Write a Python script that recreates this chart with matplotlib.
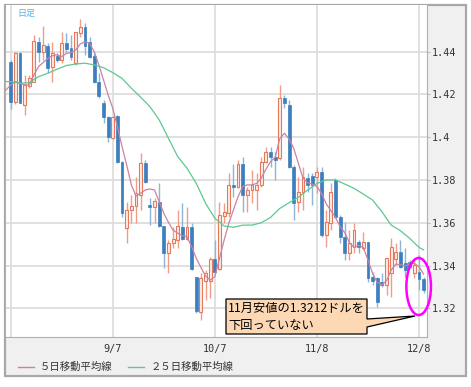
import numpy as np
import matplotlib
matplotlib.use('Agg')
import matplotlib.pyplot as plt
from matplotlib.patches import Rectangle, Ellipse, Polygon
from matplotlib.lines import Line2D

plt.rcParams['font.family'] = ['Noto Sans CJK JP', 'DejaVu Sans']

# daily candles, index 0 = 8/8 ... 89 = 12/9
opens = [1.4353, 1.4166, 1.4392, 1.4151, 1.4240, 1.4260, 1.4447, 1.4400, 1.4427, 1.4330,
         1.4380, 1.4361, 1.4439, 1.4416, 1.4346, 1.4489, 1.4517, 1.4447, 1.4380, 1.4260,
         1.4158, 1.4096, 1.3998, 1.4099, 1.3886, 1.3574, 1.3660, 1.3680, 1.3730, 1.3881,
         1.3683, 1.3675, 1.3699, 1.3585, 1.3457, 1.3504, 1.3519, 1.3582, 1.3522, 1.3582,
         1.3345, 1.3184, 1.3329, 1.3329, 1.3429, 1.3382, 1.3633, 1.3644, 1.3777, 1.3769,
         1.3875, 1.3730, 1.3753, 1.3753, 1.3777, 1.3886, 1.3932, 1.3909, 1.3901, 1.4185,
         1.4151, 1.3862, 1.3699, 1.3745, 1.3808, 1.3820, 1.3815, 1.3836, 1.3543, 1.3597,
         1.3800, 1.3628, 1.3535, 1.3457, 1.3488, 1.3508, 1.3480, 1.3508, 1.3348, 1.3340,
         1.3324, 1.3309, 1.3363, 1.3429, 1.3465, 1.3410, 1.3418, 1.3365, 1.3371, 1.3335]
highs = [1.4361, 1.4400, 1.4400, 1.4291, 1.4291, 1.4478, 1.4470, 1.4520, 1.4439, 1.4447,
         1.4392, 1.4494, 1.4486, 1.4478, 1.4494, 1.4551, 1.4533, 1.4470, 1.4392, 1.4299,
         1.4174, 1.4099, 1.4099, 1.4104, 1.3890, 1.3699, 1.3730, 1.3815, 1.3925, 1.3893,
         1.3714, 1.3714, 1.3784, 1.3585, 1.3519, 1.3582, 1.3660, 1.3691, 1.3675, 1.3597,
         1.3348, 1.3363, 1.3379, 1.3441, 1.3519, 1.3699, 1.3691, 1.3831, 1.3877, 1.3893,
         1.3909, 1.3769, 1.3846, 1.3831, 1.3909, 1.3956, 1.3956, 1.3932, 1.4244, 1.4198,
         1.4174, 1.3870, 1.3815, 1.3862, 1.3831, 1.3831, 1.3862, 1.3862, 1.3660, 1.3784,
         1.3808, 1.3636, 1.3605, 1.3566, 1.3597, 1.3519, 1.3559, 1.3512, 1.3371, 1.3348,
         1.3363, 1.3434, 1.3527, 1.3504, 1.3519, 1.3480, 1.3426, 1.3426, 1.3449, 1.3348]
lows = [1.4130, 1.4154, 1.4158, 1.4104, 1.4229, 1.4260, 1.4353, 1.4361, 1.4299, 1.4260,
        1.4353, 1.4346, 1.4400, 1.4361, 1.4338, 1.4470, 1.4385, 1.4369, 1.4252, 1.4182,
        1.4065, 1.3979, 1.3990, 1.3878, 1.3628, 1.3504, 1.3597, 1.3597, 1.3660, 1.3784,
        1.3589, 1.3597, 1.3582, 1.3387, 1.3363, 1.3480, 1.3480, 1.3519, 1.3519, 1.3379,
        1.3176, 1.3145, 1.3239, 1.3246, 1.3363, 1.3379, 1.3597, 1.3628, 1.3722, 1.3761,
        1.3652, 1.3652, 1.3691, 1.3660, 1.3769, 1.3878, 1.3862, 1.3800, 1.3893, 1.4135,
        1.3854, 1.3613, 1.3652, 1.3660, 1.3745, 1.3683, 1.3738, 1.3535, 1.3488, 1.3566,
        1.3621, 1.3504, 1.3426, 1.3426, 1.3457, 1.3457, 1.3472, 1.3324, 1.3309, 1.3208,
        1.3301, 1.3262, 1.3254, 1.3402, 1.3387, 1.3348, 1.3387, 1.3340, 1.3285, 1.3270]
closes = [1.4166, 1.4395, 1.4162, 1.4244, 1.4275, 1.4452, 1.4400, 1.4431, 1.4322, 1.4395,
          1.4361, 1.4439, 1.4411, 1.4377, 1.4494, 1.4517, 1.4427, 1.4377, 1.4260, 1.4193,
          1.4096, 1.4003, 1.4096, 1.3886, 1.3644, 1.3660, 1.3680, 1.3738, 1.3881, 1.3792,
          1.3675, 1.3703, 1.3585, 1.3457, 1.3504, 1.3522, 1.3585, 1.3522, 1.3582, 1.3382,
          1.3189, 1.3340, 1.3363, 1.3429, 1.3371, 1.3636, 1.3652, 1.3777, 1.3769, 1.3875,
          1.3730, 1.3753, 1.3777, 1.3777, 1.3886, 1.3932, 1.3909, 1.3893, 1.4182, 1.4158,
          1.3862, 1.3694, 1.3745, 1.3815, 1.3777, 1.3777, 1.3836, 1.3543, 1.3605, 1.3745,
          1.3628, 1.3535, 1.3457, 1.3504, 1.3566, 1.3488, 1.3512, 1.3340, 1.3329, 1.3231,
          1.3309, 1.3434, 1.3488, 1.3465, 1.3395, 1.3379, 1.3395, 1.3402, 1.3335, 1.3285]

# moving averages (index -1 = left edge)
ma5 = [1.4221, 1.4244, 1.4260, 1.4252, 1.4244, 1.4244, 1.4291, 1.4330, 1.4349, 1.4369, 1.4381,
       1.4385, 1.4377, 1.4392, 1.4395, 1.4408, 1.4436, 1.4447, 1.4439, 1.4400, 1.4338,
       1.4268, 1.4197, 1.4135, 1.4049, 1.3956, 1.3870, 1.3777, 1.3725, 1.3738, 1.3753,
       1.3758, 1.3753, 1.3699, 1.3644, 1.3602, 1.3566, 1.3551, 1.3540, 1.3535, 1.3488,
       1.3434, 1.3391, 1.3351, 1.3332, 1.3348, 1.3434, 1.3519, 1.3597, 1.3660, 1.3722,
       1.3769, 1.3777, 1.3777, 1.3784, 1.3808, 1.3850, 1.3886, 1.3906, 1.3995, 1.4018,
       1.3992, 1.3948, 1.3878, 1.3808, 1.3787, 1.3781, 1.3769, 1.3738, 1.3688, 1.3657,
       1.3625, 1.3582, 1.3554, 1.3507, 1.3485, 1.3494, 1.3485, 1.3426, 1.3363, 1.3321,
       1.3309, 1.3329, 1.3379, 1.3407, 1.3404, 1.3398, 1.3407, 1.3410, 1.3395, 1.3360]
ma25_days = [-1, 0, 2, 4, 6, 8, 10, 12, 14, 16, 18, 20, 22, 24, 26, 28, 30, 32, 34, 36,
             38, 40, 42, 44, 46, 48, 50, 52, 54, 56, 58, 60, 62, 64, 66, 68, 70, 72, 74,
             76, 78, 80, 82, 84, 86, 88, 89]
ma25 = [1.4260, 1.4260, 1.4252, 1.4255, 1.4283, 1.4299, 1.4318, 1.4335, 1.4342, 1.4346,
        1.4338, 1.4325, 1.4302, 1.4275, 1.4229, 1.4187, 1.4143, 1.4081, 1.3995, 1.3909,
        1.3855, 1.3784, 1.3691, 1.3621, 1.3585, 1.3579, 1.3589, 1.3589, 1.3600, 1.3625,
        1.3667, 1.3694, 1.3719, 1.3753, 1.3784, 1.3800, 1.3800, 1.3781, 1.3761, 1.3734,
        1.3706, 1.3652, 1.3589, 1.3563, 1.3527, 1.3485, 1.3473]

month_ticks = [0, 22, 44, 66, 88]
month_labels = ['', '9/7', '10/7', '11/8', '12/8']
price_ticks = [1.32, 1.34, 1.36, 1.38, 1.40, 1.42, 1.44]
legend_labels = ['５日移動平均線', '２５日移動平均線']
note_lines = ['11月安値の1.3212ドルを', '下回っていない']

W, H = 471, 387
fig = plt.figure(figsize=(W / 100, H / 100), dpi=100)


def fx(px):
    return px / W


def fy(py):
    return 1 - py / H


# frame / gray panels
fig.add_artist(Rectangle((fx(5), fy(376)), fx(466) - fx(5), fy(5) - fy(376),
                         transform=fig.transFigure, facecolor='#F0F0F0',
                         edgecolor='#A8A8A8', lw=1.6, zorder=-1))

ax = fig.add_axes([fx(5), fy(337), fx(426.7) - fx(5), fy(5) - fy(337)])
ax.set_facecolor('white')
ax.set_xlim(-1.23, 89.66)
ax.set_ylim(1.3066, 1.4618)

days = np.arange(len(opens))
o = np.array(opens)
h = np.array(highs)
l = np.array(lows)
c = np.array(closes)
up = c >= o
body_lo = np.minimum(o, c)
body_h = np.maximum(np.abs(c - o), 0.00035)

ax.vlines(days[up], l[up], h[up], color='#F09C86', lw=1, zorder=2)
ax.vlines(days[~up], l[~up], h[~up], color='#8DB5DB', lw=1, zorder=2)
ax.bar(days[up], body_h[up], bottom=body_lo[up], width=0.62, color='#FDEDE8',
       edgecolor='#E5795C', linewidth=0.8, zorder=3)
ax.bar(days[~up], body_h[~up], bottom=body_lo[~up], width=0.62, color='#3D7EBF',
       edgecolor='#3D7EBF', linewidth=0.5, zorder=3)

ax.plot(np.arange(-1, len(ma5) - 1), ma5, color='#CC82A3', lw=0.9, zorder=4)
ax.plot(ma25_days, ma25, color='#5CC98E', lw=0.9, zorder=4)

ax.set_xticks(month_ticks)
ax.set_xticklabels(month_labels, family='DejaVu Sans Mono', fontsize=7.3, color='#333333')
ax.set_yticks(price_ticks)
ax.set_yticklabels([f'{v:g}' for v in price_ticks], family='DejaVu Sans Mono',
                   fontsize=7.3, color='#333333')
ax.yaxis.tick_right()
ax.tick_params(axis='y', length=2.5, width=0.8, color='#BBBBBB', pad=1)
ax.tick_params(axis='x', length=0, pad=5)
ax.grid(color='#DDDDDD', lw=1.3)
ax.set_axisbelow(True)
for side in ['left', 'bottom', 'right']:
    ax.spines[side].set_color('#B0B0B0')
ax.spines['top'].set_visible(False)

# circle around latest candles
ax.add_patch(Ellipse((87.93, 1.3302), 5.3, 0.0267, fill=False, edgecolor='#FF00FF',
                     lw=1.8, clip_on=False, zorder=6))

fig.text(fx(17), fy(13), '日足', fontsize=6.5, color='#55B5E6', va='center')

# legend
fig.add_artist(Line2D([fx(18), fx(34)], [fy(366.5)] * 2, color='#CC82A3', lw=1,
                      transform=fig.transFigure))
fig.text(fx(40), fy(366.5), legend_labels[0], fontsize=7.5, color='#333333', va='center')
fig.add_artist(Line2D([fx(128), fx(144)], [fy(366.5)] * 2, color='#5CC98E', lw=1,
                      transform=fig.transFigure))
fig.text(fx(151), fy(366.5), legend_labels[1], fontsize=7.5, color='#333333', va='center')

# callout
pts = [(226, 299), (367, 299), (367, 319), (415, 316), (367, 327), (367, 334), (226, 334)]
fig.add_artist(Polygon([(fx(x), fy(y)) for x, y in pts], closed=True, transform=fig.transFigure,
                       facecolor='#FDD8B5', edgecolor='black', lw=0.9, zorder=10))
fig.text(fx(228), fy(308), note_lines[0], fontsize=8.8, color='black', va='center', zorder=11)
fig.text(fx(228), fy(325), note_lines[1], fontsize=8.8, color='black', va='center', zorder=11)

fig.savefig('out.png', dpi=100)
